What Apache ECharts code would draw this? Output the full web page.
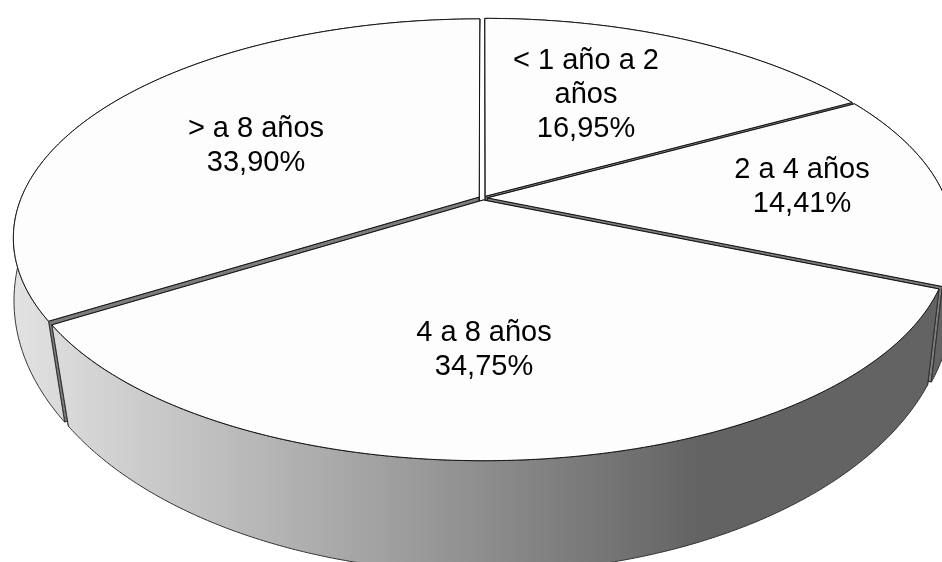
<!DOCTYPE html>
<html>
<head>
<meta charset="utf-8">
<style>html,body{margin:0;padding:0;background:#fff}#chart{width:942px;height:562px}</style>
<script src="https://cdn.jsdelivr.net/npm/echarts@6/dist/echarts.min.js"></script>
</head>
<body>
<div id="chart"></div>
<script>
// Antigüedad: reparto porcentual en tarta con perspectiva
const categories = ['< 1 año a 2\naños', '2 a 4 años', '4 a 8 años', '> a 8 años'];
const shares = [16.95, 14.41, 34.75, 33.90];
const labelAnchors = [[586, 95], [802, 187], [484, 350], [256, 146]];

// Proyección del disco unidad sobre cada plano (cara superior e inferior)
const topPlane = { cx: 483, cy: 198, a: 458, b: 211.5, p: 0.1855 };
const basePlane = { cx: 483, cy: 275, a: 463, b: 265, p: 0.1 };
const explode = 0.0095;

const total = shares.reduce((s, v) => s + v, 0);
const startPct = shares.map((_, i) => shares.slice(0, i).reduce((s, v) => s + v, 0) / total);

function project(plane, u, v) {
  const w = 1 + plane.p * v;
  return [plane.cx + plane.a * u / w, plane.cy - plane.b * v / w];
}

// Ángulos medidos desde arriba y en sentido horario
function sliceGeometry(i, value) {
  const from = startPct[i] * 2 * Math.PI;
  const to = from + value / total * 2 * Math.PI;
  const mid = (from + to) / 2;
  const ox = explode * Math.sin(mid), oy = explode * Math.cos(mid);
  const rim = plane => {
    const pts = [];
    const steps = Math.ceil((to - from) / (Math.PI / 360));
    for (let k = 0; k <= steps; k++) {
      const t = from + (to - from) * k / steps;
      pts.push(project(plane, Math.sin(t) + ox, Math.cos(t) + oy));
    }
    return pts;
  };
  return { mid, rimTop: rim(topPlane), rimBase: rim(basePlane),
    apexTop: project(topPlane, ox, oy), apexBase: project(basePlane, ox, oy) };
}

const wallFill = new echarts.graphic.LinearGradient(15, 0, 700, 0, [
  { offset: 0, color: '#e2e2e2' },
  { offset: 0.56, color: '#9e9e9e' },
  { offset: 1, color: '#636363' }
], true);

function renderWalls(params, api) {
  const g = sliceGeometry(params.dataIndex, api.value(0));
  const order = Math.round(50 - Math.cos(g.mid) * 40);
  const n = g.rimTop.length - 1;
  const radial = (rt, rb) => ({
    type: 'polygon', z2: order,
    shape: { points: [g.apexTop, rt, rb, g.apexBase] },
    style: { fill: '#7c7c7c', stroke: '#1c1c1c', lineWidth: 1, lineJoin: 'round' }
  });
  return {
    type: 'group',
    children: [
      radial(g.rimTop[0], g.rimBase[0]),
      radial(g.rimTop[n], g.rimBase[n]),
      {
        type: 'polygon', z2: order + 1,
        shape: { points: g.rimTop.concat(g.rimBase.slice().reverse()) },
        style: { fill: wallFill, stroke: '#333', lineWidth: 1, lineJoin: 'round' }
      }
    ]
  };
}

function renderFace(params, api) {
  const g = sliceGeometry(params.dataIndex, api.value(0));
  return {
    type: 'polygon',
    shape: { points: [g.apexTop].concat(g.rimTop) },
    style: { fill: '#fdfdfd', stroke: '#111', lineWidth: 1, lineJoin: 'round' }
  };
}

function renderLabel(params, api) {
  const i = params.dataIndex;
  const pct = api.value(0).toFixed(2).replace('.', ',') + '%';
  return {
    type: 'text',
    style: {
      text: categories[i] + '\n' + pct,
      x: labelAnchors[i][0], y: labelAnchors[i][1],
      align: 'center', verticalAlign: 'middle',
      fontFamily: '"Liberation Sans", Arial, sans-serif',
      fontSize: 29, lineHeight: 34, fill: '#000'
    }
  };
}

const customSeries = (renderItem, z) => ({
  type: 'custom', coordinateSystem: 'none', silent: true, animation: false, z,
  data: shares.map(v => [v]), renderItem
});

const chart = echarts.init(document.getElementById('chart'), null, { renderer: 'canvas' });
chart.setOption({
  animation: false,
  backgroundColor: '#ffffff',
  series: [customSeries(renderWalls, 1), customSeries(renderFace, 2), customSeries(renderLabel, 3)]
});
</script>
</body>
</html>
